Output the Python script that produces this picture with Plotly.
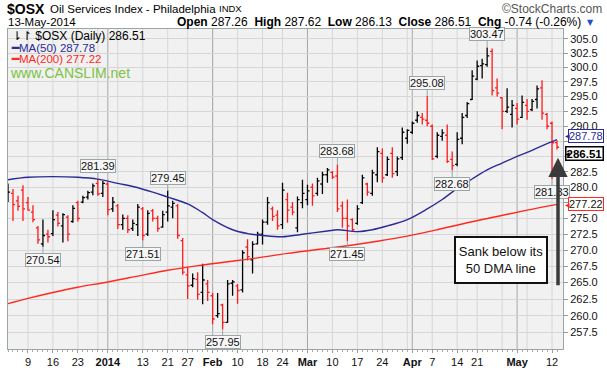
import math
import pandas as pd
import plotly.graph_objects as go

# ---------------- data ----------------
holidays = ["2013-12-25", "2014-01-01", "2014-01-20", "2014-02-17", "2014-04-18"]
dates = [d for d in pd.bdate_range("2013-12-03", "2014-05-13")
         if d.strftime("%Y-%m-%d") not in holidays]

opens = [278.2, 279.0, 277.8, 279.5, 277.5, 276.0, 273.5, 271.0, 272.5, 272.6,
         275.5, 273.8, 275.2, 274.5, 277.5, 277.6, 278.4, 279.2, 280.6, 279.0,
         280.5, 276.5, 277.0, 274.0, 275.0, 273.4, 274.0, 276.5, 272.5, 276.2,
         275.0, 273.6, 276.0, 276.8, 277.0, 271.5, 266.2, 264.6, 265.5, 263.5,
         264.8, 263.0, 260.0, 261.6, 259.0, 264.9, 264.5, 263.9, 270.5, 268.5,
         271.0, 272.5, 274.4, 276.5, 275.5, 274.0, 278.0, 276.8, 273.5, 277.5,
         278.0, 280.0, 279.0, 280.5, 282.0, 282.4, 281.8, 277.0, 275.0, 274.8,
         274.2, 277.5, 280.5, 279.0, 282.0, 285.5, 282.0, 285.5, 282.5, 284.8,
         288.0, 289.0, 291.0, 291.5, 291.0, 290.0, 285.0, 288.3, 288.5, 284.5,
         283.7, 288.0, 291.8, 294.5, 298.0, 300.3, 300.5, 302.8, 296.5, 294.8,
         292.5, 292.0, 293.0, 291.5, 293.5, 292.8, 294.5, 296.5, 292.0, 290.5,
         287.26]
highs = [280.6, 279.7, 278.6, 280.3, 278.4, 277.1, 273.8, 274.8, 273.2, 276.3,
         276.0, 275.8, 275.5, 277.1, 277.8, 278.6, 279.4, 280.6, 281.39, 281.0,
         280.8, 278.4, 277.3, 275.6, 275.5, 274.8, 277.3, 276.8, 276.3, 276.5,
         275.4, 276.2, 279.45, 277.8, 277.3, 271.9, 267.4, 266.4, 266.6, 267.9,
         265.4, 263.4, 263.4, 261.8, 265.4, 265.4, 264.8, 270.0, 271.7, 271.4,
         272.9, 274.8, 278.4, 276.9, 276.3, 280.7, 279.1, 277.6, 278.5, 281.2,
         280.4, 280.6, 281.5, 282.5, 283.1, 282.6, 283.68, 277.7, 278.0, 275.0,
         277.1, 282.0, 280.7, 282.8, 286.5, 286.3, 285.0, 286.5, 285.0, 289.8,
         289.5, 290.8, 292.5, 292.2, 295.08, 290.3, 289.0, 289.5, 290.3, 285.8,
         289.0, 292.2, 294.1, 299.5, 301.2, 301.5, 303.47, 303.3, 298.1, 294.9,
         296.4, 294.4, 293.9, 295.2, 294.6, 294.6, 296.9, 297.8, 292.2, 290.8,
         287.62]
lows = [277.6, 274.6, 276.2, 274.6, 276.2, 274.4, 271.0, 270.54, 271.2, 272.2,
        273.7, 271.2, 271.4, 274.3, 274.5, 277.4, 278.0, 278.7, 278.6, 278.4,
        275.5, 276.0, 273.3, 273.2, 272.7, 273.0, 272.2, 271.51, 272.2, 274.5,
        272.9, 273.5, 274.5, 275.0, 271.8, 266.2, 262.5, 264.3, 262.4, 261.7,
        262.2, 258.7, 259.7, 257.95, 258.95, 263.0, 261.8, 263.5, 268.4, 266.4,
        270.9, 270.9, 274.0, 274.6, 273.2, 273.3, 274.3, 275.5, 272.8, 276.6,
        277.1, 277.0, 278.6, 278.9, 280.7, 281.3, 276.0, 273.5, 271.45, 272.9,
        274.0, 277.3, 278.6, 278.6, 280.8, 280.7, 281.8, 281.5, 281.8, 284.4,
        287.1, 288.7, 290.6, 290.3, 290.0, 284.4, 284.7, 287.6, 283.9, 282.68,
        283.4, 287.0, 291.4, 294.4, 297.8, 298.1, 300.1, 295.2, 295.0, 289.5,
        292.2, 289.8, 290.3, 291.4, 291.1, 292.5, 293.0, 291.1, 289.5, 281.33,
        286.13]
closes = [279.2, 277.2, 276.9, 276.5, 276.3, 274.8, 271.6, 272.3, 272.1, 274.8,
          274.2, 275.6, 272.5, 276.6, 275.0, 278.3, 279.1, 280.2, 278.9, 280.6,
          276.4, 277.6, 274.0, 275.0, 273.2, 274.2, 276.8, 272.3, 275.8, 275.0,
          273.4, 275.6, 277.0, 277.4, 272.3, 266.6, 264.5, 265.6, 263.2, 265.4,
          263.5, 259.5, 260.3, 259.0, 264.8, 265.1, 263.8, 269.6, 269.0, 270.9,
          272.5, 274.4, 277.5, 275.3, 273.8, 279.5, 276.3, 276.0, 278.0, 279.0,
          279.4, 278.6, 281.0, 282.0, 282.8, 281.6, 276.5, 275.0, 273.8, 273.2,
          276.5, 281.5, 279.2, 282.3, 285.8, 281.5, 284.5, 282.2, 284.6, 289.0,
          289.3, 290.5, 291.8, 291.2, 290.5, 284.6, 288.5, 288.9, 284.2, 283.5,
          287.8, 291.5, 293.8, 298.5, 300.2, 300.6, 302.0, 296.0, 295.6, 292.5,
          293.2, 293.5, 291.2, 294.0, 292.5, 294.2, 296.3, 292.2, 290.0, 287.25,
          286.51]

ma50_dates = ["2013-12-03", "2013-12-09", "2013-12-16", "2013-12-23", "2013-12-30",
              "2014-01-06", "2014-01-09", "2014-01-15", "2014-01-21", "2014-01-27",
              "2014-01-30", "2014-02-03", "2014-02-07", "2014-02-12", "2014-02-18",
              "2014-02-24", "2014-02-28", "2014-03-07", "2014-03-11", "2014-03-17",
              "2014-03-20", "2014-03-25", "2014-03-31", "2014-04-04", "2014-04-09",
              "2014-04-11", "2014-04-16", "2014-04-23", "2014-04-28", "2014-05-01",
              "2014-05-06", "2014-05-09", "2014-05-13"]
ma50_vals = [281.2, 281.6, 281.7, 281.6, 281.3, 280.6, 280.1, 279.2, 278.4, 277.3,
             275.9, 274.8, 273.2, 272.6, 272.3, 272.1, 272.5, 273.0, 273.2, 272.9,
             273.2, 273.8, 274.8, 276.5, 278.0, 279.2, 280.8, 282.8, 283.9, 285.0,
             286.0, 287.1, 287.78]

ma200_dates = ["2013-12-03", "2013-12-09", "2013-12-16", "2013-12-23", "2014-01-02",
               "2014-01-10", "2014-01-21", "2014-01-29", "2014-02-06", "2014-02-14",
               "2014-02-25", "2014-03-05", "2014-03-13", "2014-03-21", "2014-03-31",
               "2014-04-08", "2014-04-16", "2014-04-25", "2014-05-05", "2014-05-13"]
ma200_vals = [261.8, 262.6, 263.5, 264.3, 265.1, 266.0, 266.9, 267.6, 268.2, 268.8,
              269.5, 270.1, 270.7, 271.4, 272.2, 273.2, 274.3, 275.3, 276.3, 277.22]

tick_dates = ["2013-12-09", "2013-12-16", "2013-12-23", "2014-01-02", "2014-01-13",
              "2014-01-21", "2014-01-27", "2014-02-03", "2014-02-10", "2014-02-18",
              "2014-02-24", "2014-03-03", "2014-03-10", "2014-03-17", "2014-03-24",
              "2014-04-01", "2014-04-07", "2014-04-14", "2014-04-21", "2014-05-01",
              "2014-05-12"]
tick_text = ["9", "16", "23", "<b>2014</b>", "13", "21", "27", "<b>Feb</b>", "10", "18",
             "24", "<b>Mar</b>", "10", "17", "24", "<b>Apr</b>", "7", "14", "21",
             "<b>May</b>", "12"]

y_ticks = [257.5, 260.0, 262.5, 265.0, 267.5, 270.0, 272.5, 275.0, 277.5, 280.0,
           282.5, 285.0, 287.5, 290.0, 292.5, 295.0, 297.5, 300.0, 302.5, 305.0]
y_hidden = [277.5, 287.5]   # labels covered by the last-value tags in the reference

high_labels = ["2013-12-30", "2014-01-21", "2014-03-11", "2014-04-04", "2014-04-23"]
low_labels = ["2013-12-12", "2014-01-13", "2014-02-05", "2014-03-13", "2014-04-11",
              "2014-05-12"]

# ---------------- helpers ----------------
dstr = [d.strftime("%Y-%m-%d") for d in dates]
pos = {s: n for n, s in enumerate(dstr)}
xs = list(range(len(dates)))

W, H = 607, 375
ML, MR, MT, MB = 7, 44, 29, 18
PW, PH = W - ML - MR, H - MT - MB
Y_LO, Y_HI = 255.05, 306.72


def px(x):
    return (x - ML) / PW


def py(y):
    return (H - MB - y) / PH


up = [0] + [n for n in range(1, len(closes)) if closes[n] >= closes[n - 1]]
dn = [n for n in range(1, len(closes)) if closes[n] < closes[n - 1]]

fig = go.Figure()


def ohlc(idx, color):
    return go.Ohlc(
        x=[xs[n] for n in idx], open=[opens[n] for n in idx],
        high=[highs[n] for n in idx], low=[lows[n] for n in idx],
        close=[closes[n] for n in idx], tickwidth=0.42,
        increasing=dict(line=dict(color=color, width=1.3)),
        decreasing=dict(line=dict(color=color, width=1.3)),
        hoverinfo="skip", showlegend=False)


fig.add_trace(go.Scatter(x=[pos[d] for d in ma200_dates], y=ma200_vals, mode="lines",
                         line=dict(color="#ff2a1f", width=1.4, shape="spline"),
                         hoverinfo="skip", showlegend=False))
fig.add_trace(go.Scatter(x=[pos[d] for d in ma50_dates], y=ma50_vals, mode="lines",
                         line=dict(color="#2b2b96", width=1.4, shape="spline"),
                         hoverinfo="skip", showlegend=False))
fig.add_trace(ohlc(up, "#000000"))
fig.add_trace(ohlc(dn, "#ff1a1a"))

# vertical grid lines (week starts light, month starts darker)
shapes = []
for n in range(1, len(dates)):
    if dates[n].isocalendar()[1] != dates[n - 1].isocalendar()[1]:
        shapes.append(dict(type="line", xref="x", yref="paper", x0=n, x1=n, y0=0, y1=1,
                           line=dict(color="#d6d6d6", width=1), layer="below"))
for n in range(1, len(dates)):
    if dates[n].month != dates[n - 1].month:
        shapes.append(dict(type="line", xref="x", yref="paper", x0=n, x1=n, y0=0, y1=1,
                           line=dict(color="#a8a8a8", width=1), layer="below"))

ann = []
lab_style = dict(font=dict(family="Arial", size=11, color="#111"), bgcolor="#f6f6f6",
                 bordercolor="#9aa6a6", borderwidth=1, borderpad=0, showarrow=True,
                 arrowhead=0, arrowwidth=1, arrowcolor="#9aa6a6", ax=0, standoff=0)
for d in high_labels:
    n = pos[d]
    ann.append(dict(x=n, y=math.log10(highs[n]), text=f"{highs[n]:.2f}", ay=-13, **lab_style))
for d in low_labels:
    n = pos[d]
    ann.append(dict(x=n, y=math.log10(lows[n]), text=f"{lows[n]:.2f}", ay=13, **lab_style))

# right-side last-value tags
last = len(closes) - 1
tags = [(ma50_vals[-1], "#2b2b96", "#2b2b96", False, -4),
        (ma200_vals[-1], "#ff2a1f", "#111", False, 0),
        (closes[last], "#000000", "#000", True, 6)]
for v, bc, tc, bold, ysh in tags:
    t = f"{v:.2f}"
    ann.append(dict(xref="paper", x=px(604), y=math.log10(v), xanchor="right",
                    yshift=-ysh, text=f"<b>{t}</b>" if bold else t, showarrow=False,
                    font=dict(family="Arial", size=11.5 if bold else 11, color=tc),
                    bgcolor="white", bordercolor=bc, borderwidth=1.5 if bold else 1,
                    borderpad=0))
    ann.append(dict(xref="paper", x=px(563), y=math.log10(v), xanchor="left",
                    yshift=-ysh, text="◀", showarrow=False,
                    font=dict(family="DejaVu Sans", size=6, color=bc)))

# header texts
hdr = "Arial"
ann += [
    dict(xref="paper", yref="paper", x=px(4), y=py(8), xanchor="left", yanchor="middle",
         showarrow=False, text="<b>$OSX</b>", font=dict(family=hdr, size=14, color="#000")),
    dict(xref="paper", yref="paper", x=px(47), y=py(8), xanchor="left", yanchor="middle",
         showarrow=False, text="Oil Services Index - Philadelphia",
         font=dict(family=hdr, size=11.5, color="#000")),
    dict(xref="paper", yref="paper", x=px(216), y=py(8), xanchor="left", yanchor="middle",
         showarrow=False, text="INDX", font=dict(family=hdr, size=9.5, color="#000")),
    dict(xref="paper", yref="paper", x=px(604), y=py(8), xanchor="right", yanchor="middle",
         showarrow=False, text="©StockCharts.com", font=dict(family=hdr, size=12, color="#555")),
    dict(xref="paper", yref="paper", x=px(5), y=py(22), xanchor="left", yanchor="middle",
         showarrow=False, text="13-May-2014", font=dict(family=hdr, size=11.5, color="#000")),
    dict(xref="paper", yref="paper", x=px(583), y=py(22), xanchor="right", yanchor="middle",
         showarrow=False,
         text=(f"<b>Open</b> {opens[last]:.2f}  <b>High</b> {highs[last]:.2f}  "
               f"<b>Low</b> {lows[last]:.2f}  <b>Close</b> {closes[last]:.2f}  "
               f"<b>Chg</b> {closes[last]-closes[last-1]:.2f} "
               f"({(closes[last]-closes[last-1])/closes[last-1]*100:.2f}%)"),
         font=dict(family=hdr, size=12, color="#000")),
    dict(xref="paper", yref="paper", x=px(591), y=py(22), xanchor="center", yanchor="middle",
         showarrow=False, text="▼", font=dict(family="DejaVu Sans", size=8, color="#1f4fd6")),
    # in-plot legend
    dict(xref="paper", yref="paper", x=px(9), y=py(36), xanchor="left", yanchor="middle",
         showarrow=False, text="⇂↾ $OSX (Daily) " + f"{closes[last]:.2f}",
         font=dict(family=hdr, size=12, color="#000")),
    dict(xref="paper", yref="paper", x=px(8), y=py(48), xanchor="left", yanchor="middle",
         showarrow=False, text="<b>━</b>MA(50) " + f"{ma50_vals[-1]:.2f}",
         font=dict(family=hdr, size=11.5, color="#2b2b96")),
    dict(xref="paper", yref="paper", x=px(8), y=py(60), xanchor="left", yanchor="middle",
         showarrow=False, text="<b>━</b>MA(200) " + f"{ma200_vals[-1]:.2f}",
         font=dict(family=hdr, size=11.5, color="#ff2a1f")),
    dict(xref="paper", yref="paper", x=px(7), y=py(74), xanchor="left", yanchor="middle",
         showarrow=False, text="www.CANSLIM.net",
         font=dict(family=hdr, size=14, color="#7cc243")),
    # callout arrow and box
    dict(xref="paper", yref="paper", x=px(558), y=py(161), showarrow=True, ax=0, ay=129,
         axref="pixel", ayref="pixel", text="", arrowhead=2, arrowsize=1.1,
         arrowwidth=3.5, arrowcolor="#3a3a3a"),
    dict(xref="paper", yref="paper", x=px(501), y=py(266), xanchor="center",
         yanchor="middle", showarrow=False, text="Sank below its<br>50 DMA line",
         font=dict(family=hdr, size=13, color="#111"), bgcolor="white",
         bordercolor="#111", borderwidth=2, borderpad=2, width=86, height=40,
         align="center", valign="middle"),
]

fig.update_layout(
    width=W, height=H, margin=dict(l=ML, r=MR, t=MT, b=MB),
    paper_bgcolor="white", plot_bgcolor="#f1f1f1",
    shapes=shapes, annotations=ann, showlegend=False,
    xaxis=dict(range=[0, 111.2], rangeslider=dict(visible=False),
               tickmode="array", tickvals=[pos[d] for d in tick_dates], ticktext=tick_text,
               tickfont=dict(family="Arial", size=11, color="#111"),
               showgrid=False, zeroline=False, showline=True, mirror=True,
               linecolor="#9aa6a6", ticks="outside", ticklen=3, tickcolor="#999",
               minor=dict(tickmode="array", tickvals=xs, ticks="outside", ticklen=2,
                          tickcolor="#aaa", showgrid=False)),
    yaxis=dict(type="log", side="right", range=[math.log10(Y_LO), math.log10(Y_HI)],
               tickmode="array", tickvals=y_ticks,
               ticktext=["" if v in y_hidden else f"{v:.1f}" for v in y_ticks],
               tickfont=dict(family="Arial", size=11, color="#111"),
               showgrid=True, gridcolor="#d6d6d6", zeroline=False, showline=True,
               mirror=True, linecolor="#9aa6a6", ticks="outside", ticklen=4,
               tickcolor="#999"),
)

fig.write_html("out.html", config={"displayModeBar": False},
               post_script="document.body.style.margin='0';"
                           "document.body.style.overflow='hidden';")
